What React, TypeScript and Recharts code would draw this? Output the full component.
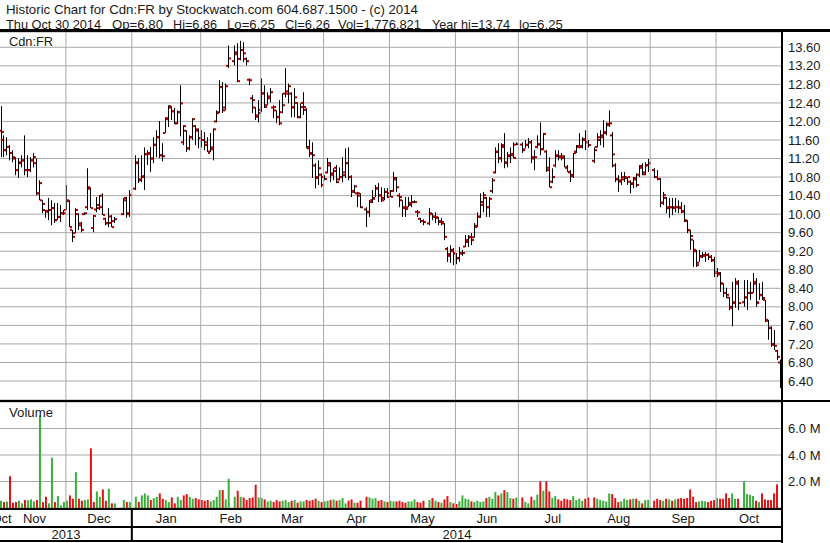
import React from "react";
import { Bar, CartesianGrid, Cell, ComposedChart, ReferenceLine, XAxis, YAxis } from "recharts";

// trading-day slots per month (weekdays; exchange holidays are kept as empty slots)
const monthLabels = ["Oct", "Nov", "Dec", "Jan", "Feb", "Mar", "Apr", "May", "Jun", "Jul", "Aug", "Sep", "Oct"];
const monthDays = [1, 21, 22, 23, 20, 21, 22, 22, 21, 23, 21, 22, 22];
const yearLabels = ["2013", "2014"];
const yearMonths = [3, 10]; // months of the list that belong to each year

const priceTicks = [6.4, 6.8, 7.2, 7.6, 8.0, 8.4, 8.8, 9.2, 9.6, 10.0, 10.4, 10.8, 11.2, 11.6, 12.0, 12.4, 12.8, 13.2, 13.6];
const volumeTicks = [2, 4, 6]; // millions

const highs = [
  12.33,
  11.70, 11.66, 11.49, 11.38, 11.23, 11.21, 11.27, 11.70, 11.27, 11.23, 11.32, 11.20, 10.73, 10.30, 10.09, 10.35, 10.30, 10.24, 10.24, 10.20, 10.09,
  10.63, 10.30, 9.66, 10.13, 10.02, 9.83, 10.04, 10.99, 10.58, 9.98, 10.37, 10.41, 10.45, 9.92, 10.13, 9.98, 9.94, null, null, 10.35, 10.37, 10.52,
  null, 11.27, 11.21, 11.27, 11.44, 11.38, 11.45, 11.66, 11.81, 12.01, 11.53, 12.09, 12.35, 12.33, 12.29, 12.24, 12.78, 11.92, 11.81, 11.70, 12.07, 11.92, 11.85,
  11.81, 11.77, 11.66, 11.75, 11.85, 12.24, 12.89, 12.85, 12.82, 13.64, null, 13.64, 13.69, 13.74, 13.71, 13.38, 12.93, 12.57, 12.31, 12.46,
  12.93, 12.78, 12.63, 12.72, 12.35, 12.24, 12.46, 12.61, 13.15, 12.82, 12.63, 12.72, 12.41, 12.39, 12.63, 12.29, 11.60, 11.55, 11.10, 11.16, 10.88,
  10.84, 11.21, 11.12, 10.99, 11.06, 11.01, 11.23, 11.42, 11.44, 10.84, 10.63, 10.48, 10.45, null, 10.15, 10.30, 10.52, 10.63, 10.67, 10.58, 10.56, 10.56,
  10.52, 10.91, 10.80, 10.45, 10.30, 10.37, 10.37, 10.41, 10.30, 10.09, 9.92, 9.89, null, 10.13, 10.02, 10.04, 9.94, 9.92, 9.81, 9.29, 9.33, 9.27,
  9.16, 9.29, 9.23, 9.55, 9.55, 9.59, 9.81, 10.04, 10.45, 10.48, 10.37, 10.37, 10.78, 11.44, 11.53, 11.53, 11.75, 11.34, 11.44, 11.55, 11.55,
  null, 11.55, 11.60, 11.64, 11.60, 11.38, 11.70, 11.98, 11.75, 11.38, 11.23, 10.99, 11.38, 11.38, 11.32, 11.27, 11.06, 10.95, 11.32, 11.49, 11.75, 11.66, 11.81,
  11.60, null, 11.44, 11.75, 11.81, 12.03, 11.98, 12.24, 11.77, 11.10, 10.84, 10.91, 10.91, 10.80, 10.73, 10.80, 10.88, 11.06, 11.10, 11.12, 11.19,
  null, 10.99, 10.95, 10.78, 10.48, 10.37, 10.35, 10.35, 10.35, 10.30, 10.26, 10.20, 9.87, 9.66, 9.44, 9.23, 9.23, 9.18, 9.18, 9.16, 9.12, 9.08,
  8.84, 8.75, 8.51, 8.41, 8.21, 8.54, 8.62, 8.58, null, 8.58, 8.58, 8.54, 8.73, 8.62, 8.51, 8.54, 8.15, 7.72, 7.58, 7.50, 7.07, 6.86,
];

const lows = [
  11.23,
  11.23, 11.27, 11.16, 11.12, 10.84, 10.78, 11.01, 10.84, 10.80, 10.91, 11.01, 10.41, 10.30, 10.02, 9.92, 9.87, 9.76, 9.81, 9.87, 9.83, 9.98,
  10.09, 9.72, 9.40, 9.59, 9.66, 9.61, 9.98, 10.09, 10.13, 9.61, 10.04, 10.09, 9.98, 9.76, 9.72, 9.72, 9.81, null, null, 9.98, 9.92, 9.94,
  null, 10.52, 10.67, 10.69, 10.52, 11.06, 10.91, 11.10, 11.23, 11.21, 11.14, 11.75, 11.88, 12.03, 11.94, 11.94, 11.68, 11.49, 11.34, 11.38, 11.60, 11.49, 11.42,
  11.44, 11.38, 11.34, 11.34, 11.16, 11.98, 12.18, 12.18, 12.24, 13.15, null, 13.21, 12.85, 13.32, 13.28, 13.21, 12.78, 12.18, 12.03, 11.98,
  12.20, 12.29, 12.35, 12.41, 12.07, 11.96, 11.92, 12.18, 12.52, 12.39, 12.09, 12.09, 12.07, 12.07, 12.14, 11.42, 11.23, 10.78, 10.56, 10.63, 10.58,
  10.73, 10.88, 10.69, 10.73, 10.67, 10.73, 10.69, 10.78, 10.73, 10.37, 10.45, 10.15, 10.13, null, 9.72, 9.94, 10.24, 10.37, 10.26, 10.26, 10.30, 10.35,
  10.37, 10.48, 10.48, 10.15, 9.94, 9.94, 10.15, 10.15, 10.24, 9.94, 9.81, 9.76, null, 9.76, 9.87, 9.81, 9.76, 9.76, 9.44, 8.97, 8.95, 8.90,
  8.92, 8.97, 9.10, 9.29, 9.29, 9.33, 9.49, 9.72, 9.92, 10.04, 9.94, 9.94, 10.45, 10.88, 11.10, 11.12, 10.99, 11.01, 11.10, 11.21, 11.49,
  null, 11.32, 11.42, 11.42, 11.10, 10.95, 11.42, 11.27, 11.38, 10.91, 10.58, 10.67, 11.01, 11.16, 11.16, 11.01, 10.91, 10.69, 10.78, 11.32, 11.42, 11.42, 11.38,
  11.44, null, 11.10, 11.44, 11.49, 11.44, 11.70, 11.88, 11.01, 10.69, 10.48, 10.63, 10.69, 10.63, 10.45, 10.56, 10.58, 10.80, 10.84, 10.84, 10.91,
  null, 10.78, 10.73, 10.15, 10.20, 10.02, 9.92, 9.98, 10.04, 10.02, 10.02, 9.83, 9.59, 9.23, 8.86, 8.86, 8.97, 9.05, 8.97, 9.01, 8.97, 8.64,
  8.64, 8.32, 8.21, 8.19, 7.93, 7.58, 7.98, 7.93, null, 8.00, 7.93, 8.15, 8.30, 8.00, 8.15, 8.15, 7.67, 7.29, 7.14, 7.07, 6.85, 6.25,
];

const opens = [
  11.80,
  11.60, 11.38, 11.45, 11.32, 11.20, 10.95, 11.10, 11.16, 10.95, 10.95, 11.16, 11.10, 10.45, 10.30, 10.09, 10.05, 10.09, 10.13, 9.87, 9.94, 10.02,
  10.09, 10.28, 9.66, 9.59, 10.00, 9.80, 10.00, 10.15, 10.55, 9.70, 10.10, 10.20, 10.40, 9.90, 9.80, 9.95, 9.85, null, null, 10.00, 10.30, 10.00,
  null, 10.55, 11.10, 10.75, 10.80, 11.30, 11.30, 11.20, 11.50, 11.66, 11.27, 11.75, 12.05, 12.30, 12.22, 11.96, 12.20, 11.55, 11.80, 11.42, 11.66, 11.90, 11.80,
  11.64, 11.60, 11.55, 11.35, 11.40, 12.00, 12.20, 12.74, 12.30, 13.20, null, 13.30, 13.45, 13.35, 13.54, 13.35, 12.90, 12.50, 12.30, 12.10,
  12.25, 12.60, 12.35, 12.50, 12.30, 12.24, 12.10, 12.20, 12.60, 12.60, 12.60, 12.30, 12.40, 12.10, 12.40, 12.25, 11.45, 11.30, 11.05, 10.80, 10.85,
  10.80, 10.90, 11.05, 10.85, 11.00, 10.75, 10.80, 10.90, 11.10, 10.80, 10.50, 10.45, 10.40, null, 10.10, 10.05, 10.30, 10.35, 10.55, 10.40, 10.35, 10.48,
  10.45, 10.50, 10.75, 10.40, 10.30, 10.15, 10.15, 10.20, 10.26, 10.05, 9.90, 9.85, null, 9.80, 10.00, 9.95, 9.92, 9.85, 9.80, 9.25, 9.10, 9.20,
  9.15, 9.05, 9.15, 9.30, 9.40, 9.50, 9.50, 9.75, 9.95, 10.20, 10.35, 10.15, 10.50, 10.90, 11.35, 11.20, 11.45, 11.10, 11.25, 11.30, 11.50,
  null, 11.50, 11.40, 11.50, 11.55, 11.20, 11.45, 11.50, 11.40, 11.35, 11.00, 10.70, 11.05, 11.25, 11.25, 11.25, 11.00, 10.90, 10.85, 11.35, 11.45, 11.45, 11.60,
  11.55, null, 11.15, 11.45, 11.60, 11.70, 11.75, 11.95, 11.70, 11.05, 10.75, 10.70, 10.75, 10.78, 10.70, 10.65, 10.75, 10.85, 11.00, 10.90, 11.05,
  null, 10.95, 10.80, 10.76, 10.25, 10.35, 10.15, 10.15, 10.15, 10.15, 10.15, 10.05, 9.85, 9.65, 9.45, 9.20, 8.95, 9.10, 9.10, 9.12, 9.08, 9.00,
  8.75, 8.70, 8.50, 8.30, 8.20, 8.00, 8.10, 8.50, null, 8.10, 8.20, 8.30, 8.30, 8.50, 8.10, 8.25, 8.15, 7.70, 7.55, 7.20, 7.05, 6.80,
];

const closes = [
  11.77,
  11.38, 11.45, 11.32, 11.23, 10.95, 11.12, 11.16, 10.95, 10.95, 11.16, 11.23, 10.45, 10.67, 10.22, 10.07, 10.09, 10.13, 9.87, 9.94, 10.02, 10.02,
  10.30, 9.72, 9.51, 10.09, 9.76, 9.66, 10.02, 10.58, 10.13, 9.96, 10.13, 10.15, 9.98, 9.81, 9.81, 9.72, 9.89, null, null, 10.35, 10.02, 10.41,
  null, 11.12, 10.73, 10.82, 11.29, 11.32, 11.20, 11.49, 11.66, 11.27, 11.25, 12.07, 12.33, 12.22, 11.96, 12.20, 12.39, 11.90, 11.42, 11.66, 12.05, 11.83, 11.64,
  11.60, 11.49, 11.32, 11.44, 11.83, 12.18, 12.74, 12.24, 12.76, 13.36, null, 13.49, 12.87, 13.54, 13.47, 13.30, 12.89, 12.46, 12.13, 12.18,
  12.61, 12.31, 12.54, 12.63, 12.31, 12.09, 11.96, 12.35, 12.65, 12.76, 12.31, 12.52, 12.09, 12.31, 12.31, 11.42, 11.32, 11.27, 10.78, 10.99, 10.63,
  10.76, 11.10, 10.88, 10.93, 10.69, 10.80, 10.84, 11.10, 10.80, 10.48, 10.60, 10.45, 10.15, null, 10.04, 10.26, 10.33, 10.56, 10.41, 10.30, 10.48, 10.37,
  10.37, 10.78, 10.58, 10.37, 10.13, 10.11, 10.24, 10.26, 10.26, 10.04, 9.85, 9.83, null, 10.02, 9.94, 9.94, 9.83, 9.83, 9.51, 9.14, 9.23, 9.16,
  9.05, 9.16, 9.16, 9.44, 9.51, 9.44, 9.72, 9.94, 10.26, 10.41, 10.15, 10.33, 10.73, 11.34, 11.21, 11.49, 11.12, 11.27, 11.27, 11.21, 11.51,
  null, 11.38, 11.49, 11.55, 11.23, 11.23, 11.51, 11.40, 11.73, 10.95, 10.58, 10.80, 11.27, 11.23, 11.21, 11.01, 10.91, 10.82, 11.32, 11.47, 11.47, 11.62, 11.55,
  11.49, null, 11.38, 11.66, 11.66, 11.77, 11.92, 11.96, 11.29, 10.76, 10.73, 10.80, 10.80, 10.80, 10.67, 10.78, 10.63, 11.04, 10.86, 11.06, 11.10,
  null, 10.80, 10.76, 10.24, 10.41, 10.13, 10.15, 10.13, 10.15, 10.13, 10.07, 9.87, 9.66, 9.53, 9.23, 8.90, 9.08, 9.12, 9.12, 9.08, 9.01, 8.73,
  8.73, 8.51, 8.30, 8.26, 7.98, 8.08, 8.54, 8.08, null, 8.21, 8.30, 8.30, 8.54, 8.08, 8.26, 8.19, 7.72, 7.54, 7.18, 7.16, 6.92, 6.26,
];

// daily volume, millions of shares
const volumes = [
  0.55,
  0.45, 0.48, 2.40, 0.40, 0.45, 0.55, 0.35, 0.60, 0.58, 0.65, 0.50, 0.60, 7.00, 0.45, 0.85, 0.35, 3.80, 0.45, 0.90, 0.20, 0.45,
  0.55, 0.95, 0.70, 2.70, 0.70, 0.55, 0.60, 0.65, 4.50, 0.45, 1.25, 0.85, 1.40, 0.55, 1.45, 0.35, 0.35, null, null, 0.60, 0.45, 0.45,
  null, 0.85, 0.45, 0.95, 1.10, 0.95, 0.60, 0.75, 0.85, 1.10, 0.70, 0.60, 0.45, 0.80, 0.35, 0.85, 0.60, 0.95, 1.05, 0.85, 0.70, 0.75, 0.65,
  0.60, 0.55, 0.60, 0.50, 0.60, 0.85, 1.35, 1.35, 0.65, 2.20, null, 0.85, 1.30, 0.85, 0.80, 0.60, 0.75, 0.80, 1.75, 0.80,
  0.75, 0.65, 0.50, 0.55, 0.45, 0.60, 0.50, 0.55, 0.60, 0.45, 0.55, 0.60, 0.40, 0.50, 0.50, 0.60, 0.55, 0.60, 0.70, 0.55, 0.45,
  0.50, 0.55, 0.60, 0.65, 0.55, 0.60, 0.75, 0.35, 0.55, 0.65, 0.40, 0.40, 0.55, null, 0.85, 0.80, 0.70, 0.75, 0.55, 0.60, 0.50, 0.45,
  0.55, 0.50, 0.50, 0.55, 0.45, 0.40, 0.50, 0.50, 0.65, 0.45, 0.40, 0.55, null, 0.60, 0.75, 0.55, 0.45, 0.40, 0.65, 0.90, 0.45, 0.35,
  0.30, 0.50, 0.95, 0.70, 0.65, 0.50, 0.45, 0.55, 0.45, 0.50, 0.75, 0.85, 0.70, 1.20, 0.95, 1.10, 1.35, 1.20, 0.75, 0.70, 0.80,
  null, 0.80, 0.45, 0.35, 0.85, 0.60, 1.00, 2.00, 1.30, 2.00, 1.25, 0.75, 0.90, 0.65, 0.55, 0.70, 0.65, 0.60, 0.90, 0.60, 0.70, 0.55, 0.70,
  0.80, null, 0.80, 0.70, 0.60, 0.55, 0.50, 1.10, 1.05, 0.75, 0.45, 0.50, 0.70, 0.60, 0.65, 0.70, 0.70, 0.55, 0.35, 0.60, 0.60,
  null, 0.55, 0.70, 0.60, 0.55, 0.70, 0.65, 0.55, 0.65, 0.70, 0.75, 0.70, 0.75, 1.40, 0.85, 0.45, 0.50, 0.55, 0.50, 0.45, 0.55, 0.60,
  0.75, 0.70, 0.70, 1.10, 0.75, 1.10, 0.70, 0.70, null, 2.00, 1.05, 1.00, 0.90, 0.55, 0.45, 1.10, 0.65, 0.60, 0.60, 1.10, 1.78,
];

const FONT = '"Liberation Sans", Arial, sans-serif';
const GRID = "#a8a8a8";
const INK = "#1a1a1a";
const TICK_RED = "#b40000";
const VOL_UP = "#3aae3a";
const VOL_DOWN = "#e21212";

const slotCount = monthDays.reduce((a, b) => a + b, 0);
const monthStarts = monthDays.map((_, i) => monthDays.slice(0, i).reduce((a, b) => a + b, 0));
const monthMids = monthStarts.map((s, i) => s + monthDays[i] / 2);
const yearStarts = [0, monthStarts[yearMonths[0]]];
const yearMids = [yearStarts[1] / 2, (yearStarts[1] + slotCount) / 2];

let lastClose: number | null = null;
const rows = highs.map((h, i) => {
  const c = closes[i];
  const up = c != null && (lastClose == null || c >= lastClose);
  if (c != null) lastClose = c;
  return { pos: i + 0.5, high: h, low: lows[i], open: opens[i], close: c, vol: volumes[i], up };
});

type AxisMark = { kind: "month" | "year" | "edge"; label?: string };
const axisMarks = new Map<number, AxisMark>();
monthMids.forEach((m, i) => axisMarks.set(m, { kind: "month", label: monthLabels[i] }));
yearMids.forEach((m, i) => axisMarks.set(m, { kind: "year", label: yearLabels[i] }));
axisMarks.set(yearStarts[1], { kind: "edge" });
const axisTicks = [...axisMarks.keys()].sort((a, b) => a - b);

function OhlcBar(props: any) {
  const { x, y, width, height, payload } = props;
  if (!payload || payload.high == null) return null;
  const top = Math.min(y, y + height);
  const span = Math.abs(height);
  const range = payload.high - payload.low;
  const at = (v: number) => (range > 0 ? top + ((payload.high - v) / range) * span : top);
  const cx = Math.floor(x + width / 2);
  return (
    <g>
      <rect x={cx} y={top} width={1} height={Math.max(span, 1)} fill="#000" />
      <rect x={cx - 2} y={at(payload.open) - 1} width={2} height={2} fill={TICK_RED} />
      <rect x={cx + 1} y={at(payload.close) - 1} width={2} height={2} fill={TICK_RED} />
    </g>
  );
}

function TimeTick(props: any) {
  const { x, y, payload } = props;
  const mark = axisMarks.get(payload.value);
  if (!mark) return null;
  if (mark.kind === "edge") return <rect x={x - 1} y={y} width={2} height={34} fill="#000" />;
  return (
    <text x={x} y={y + (mark.kind === "month" ? 15 : 31)} textAnchor="middle" fontSize={13} fill={INK} fontFamily={FONT}>
      {mark.label}
    </text>
  );
}

const line = (left: number, top: number, width: number, height: number) => (
  <div style={{ position: "absolute", left, top, width, height, background: "#000" }} />
);

const header2: [string, number, number][] = [
  ["Thu Oct 30 2014", 6, 95],
  ["Op=6.80", 112, 51],
  ["Hi=6.86", 173, 44],
  ["Lo=6.25", 227, 48],
  ["Cl=6.26", 285, 45],
  ["Vol=1,776,821", 338, 83],
  ["Year hi=13.74", 432, 78],
  ["lo=6.25", 519, 44],
];

export default function App() {
  const gridStarts = monthStarts.filter((s) => s > 1);
  return (
    <div style={{ position: "absolute", left: 0, top: 0, width: 830, height: 543, background: "#fff", fontFamily: FONT, overflow: "hidden" }}>
      <div style={{ position: "absolute", left: 0, top: 32 }}>
        <ComposedChart width={830} height={368} data={rows} margin={{ top: 0, right: 0, bottom: 0, left: 0 }} style={{ fontFamily: FONT }}>
          <XAxis xAxisId="x" type="number" dataKey="pos" domain={[0, slotCount]} allowDataOverflow hide />
          <YAxis
            yAxisId="p"
            orientation="right"
            domain={[5.99, 13.93]}
            allowDataOverflow
            ticks={priceTicks}
            interval={0}
            width={48}
            tickLine={false}
            axisLine={false}
            tickSize={0}
            tickMargin={6}
            tick={{ fontSize: 13, fill: INK }}
            tickFormatter={(v: number) => v.toFixed(2)}
          />
          <CartesianGrid xAxisId="x" yAxisId="p" vertical={false} stroke={GRID} />
          {gridStarts.map((s) => (
            <ReferenceLine key={s} xAxisId="x" yAxisId="p" x={s} stroke={GRID} />
          ))}
          <Bar
            xAxisId="x"
            yAxisId="p"
            dataKey={(d: any) => (d.high == null ? null : [d.low, d.high])}
            barSize={2}
            shape={OhlcBar}
            isAnimationActive={false}
          />
        </ComposedChart>
      </div>
      <div style={{ position: "absolute", left: 0, top: 402 }}>
        <ComposedChart width={830} height={141} data={rows} margin={{ top: 0, right: 0, bottom: 0, left: 0 }} style={{ fontFamily: FONT }}>
          <XAxis
            xAxisId="x"
            type="number"
            dataKey="pos"
            domain={[0, slotCount]}
            allowDataOverflow
            ticks={axisTicks}
            interval={0}
            height={35}
            tickLine={false}
            axisLine={false}
            tickSize={0}
            tickMargin={0}
            tick={TimeTick}
          />
          <YAxis
            yAxisId="v"
            orientation="right"
            domain={[0, 8]}
            allowDataOverflow
            ticks={volumeTicks}
            interval={0}
            width={48}
            tickLine={false}
            axisLine={false}
            tickSize={0}
            tickMargin={6}
            tick={{ fontSize: 13, fill: INK }}
            tickFormatter={(v: number) => `${v.toFixed(1)} M`}
          />
          <CartesianGrid xAxisId="x" yAxisId="v" vertical={false} stroke={GRID} />
          {gridStarts.map((s) => (
            <ReferenceLine key={s} xAxisId="x" yAxisId="v" x={s} stroke={GRID} />
          ))}
          <Bar xAxisId="x" yAxisId="v" dataKey="vol" barSize={2} isAnimationActive={false}>
            {rows.map((r, i) => (
              <Cell key={i} fill={r.up ? VOL_UP : VOL_DOWN} />
            ))}
          </Bar>
        </ComposedChart>
      </div>

      <svg width={830} height={543} style={{ position: "absolute", left: 0, top: 0, pointerEvents: "none" }}>
        <text x={6} y={13.8} fontSize={13} fill={INK} fontFamily={FONT} textLength={412} lengthAdjust="spacingAndGlyphs">
          Historic Chart for Cdn:FR by Stockwatch.com 604.687.1500 - (c) 2014
        </text>
        {header2.map(([t, x, w]) => (
          <text key={t} x={x} y={28.6} fontSize={13} fill={INK} fontFamily={FONT} textLength={w} lengthAdjust="spacingAndGlyphs">
            {t}
          </text>
        ))}
        <text x={9} y={46} fontSize={13} fill={INK} fontFamily={FONT} textLength={44} lengthAdjust="spacingAndGlyphs">
          Cdn:FR
        </text>
        <text x={9} y={417} fontSize={13} fill={INK} fontFamily={FONT} textLength={44} lengthAdjust="spacingAndGlyphs">
          Volume
        </text>
      </svg>

      {line(0, 29, 830, 3)}
      {line(0, 400, 830, 2)}
      {line(0, 508, 782, 2)}
      {line(0, 526, 782, 2)}
      {line(0, 540, 782, 2)}
      {line(781, 29, 2, 514)}
    </div>
  );
}
